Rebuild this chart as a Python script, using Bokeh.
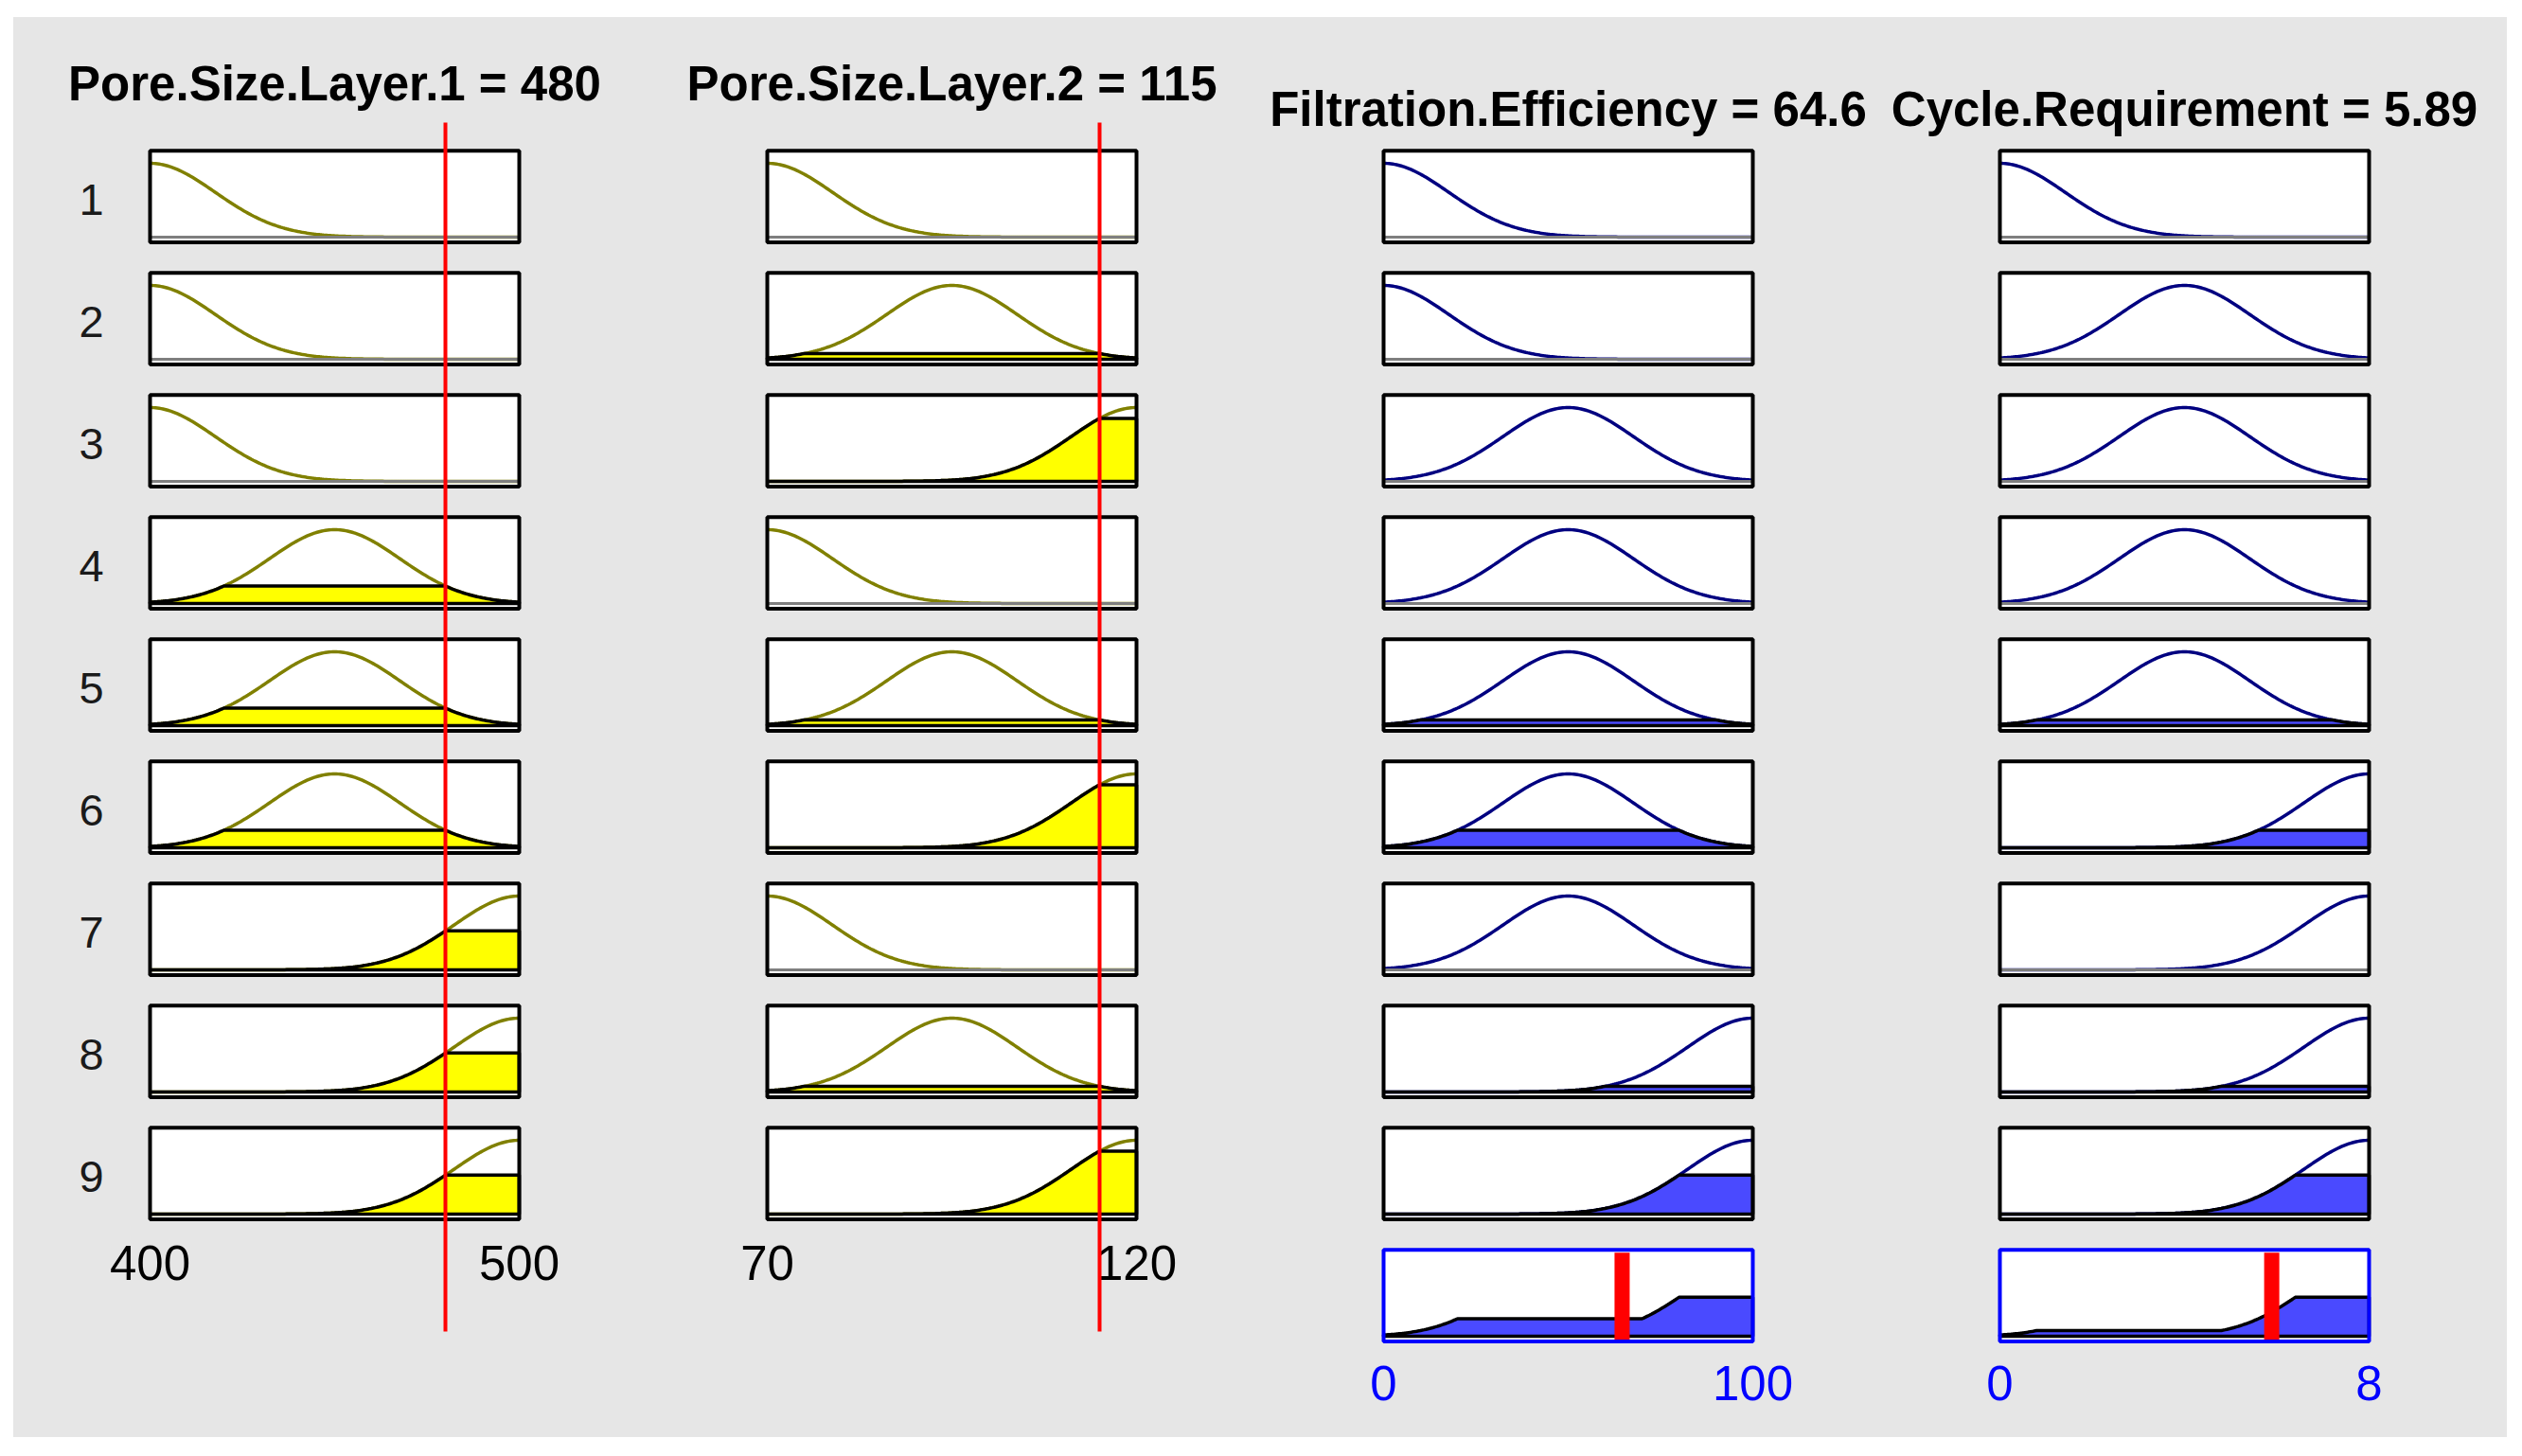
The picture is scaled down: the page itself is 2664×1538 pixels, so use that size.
import numpy as np
from bokeh.plotting import figure
from bokeh.layouts import row, column
from bokeh.models import Range1d, Spacer
from bokeh.embed import file_html
from bokeh.resources import INLINE
from bokeh.core.properties import value

# ---------------- data (read from the rule viewer) ----------------
input_names = ["Pore.Size.Layer.1", "Pore.Size.Layer.2"]
input_ranges = [(400, 500), (70, 120)]
input_values = [480, 115]
input_value_labels = ["480", "115"]

output_names = ["Filtration.Efficiency", "Cycle.Requirement"]
output_ranges = [(0, 100), (0, 8)]
output_values = [64.6, 5.89]
output_value_labels = ["64.6", "5.89"]

# gaussian membership functions: centres and spread per variable
in1_centers = [400, 450, 500]
in1_sigma = 17.69
in2_centers = [70, 95, 120]
in2_sigma = 8.845
out1_centers = [0, 50, 100]
out1_sigma = 17.69
out2_centers = [0, 4, 8]
out2_sigma = 1.415

# rule base (membership function index used by each rule)
rule_labels = ["1", "2", "3", "4", "5", "6", "7", "8", "9"]
rule_in1 = [1, 1, 1, 2, 2, 2, 3, 3, 3]
rule_in2 = [1, 2, 3, 1, 2, 3, 1, 2, 3]
rule_out1 = [1, 1, 2, 2, 2, 2, 2, 3, 3]
rule_out2 = [1, 2, 2, 2, 2, 3, 3, 3, 3]

in1_tick_values = [400, 500]
in1_tick_labels = ["400", "500"]
in2_tick_values = [70, 120]
in2_tick_labels = ["70", "120"]
out1_tick_values = [0, 100]
out1_tick_labels = ["0", "100"]
out2_tick_values = [0, 8]
out2_tick_labels = ["0", "8"]

# ---------------- styles / layout ----------------
GRAY_BG = "#e6e6e6"
IN_LINE = "#808000"
OUT_LINE = "#000080"
IN_FILL = "#ffff00"
OUT_FILL = "#4a4aff"
RED = "#ff0000"
BLUE = "#0000ff"
FONT = value("Liberation Sans")

PX = 78.0          # pixels per membership unit
BASE0 = 250.0      # page y of the zero line of rule row 1
PITCH = 129.0      # row pitch in pixels
GRAY_TOP = 18.0
GRAY_BOTTOM = 1518.0
GRAY_LEFT = 14.0
BOX_W = 390.0
NSAMP = 201
TEXT_DY = 17.0     # baseline correction for text glyphs


def py(page_y):
    return (BASE0 - page_y) / PX


def ty(page_y):
    return py(page_y - TEXT_DY)


def gauss(x, c, s):
    return np.exp(-((np.asarray(x, dtype=float) - c) ** 2) / (2.0 * s * s))


row_bases = [py(BASE0 + PITCH * i) for i in range(10)]
Y_RANGE = (py(GRAY_BOTTOM), py(GRAY_TOP))

# firing strengths (AND = min)
mu1 = [float(gauss(input_values[0], in1_centers[k - 1], in1_sigma)) for k in rule_in1]
mu2 = [float(gauss(input_values[1], in2_centers[k - 1], in2_sigma)) for k in rule_in2]
firing = [min(a, b) for a, b in zip(mu1, mu2)]

# column geometry: page x of canvas left, canvas width, page x of box left
col_geom = [
    dict(left=14, w=665, box=158),
    dict(left=679, w=651, box=810),
    dict(left=1330, w=652, box=1461),
    dict(left=1982, w=666, box=2112),
]


def make_column(ci, lo, hi, centers, sigma, rule_mf, levels, is_output, title):
    g = col_geom[ci]
    pxd = BOX_W / (hi - lo)

    def px2x(page_x):
        return lo + (page_x - g["box"]) / pxd

    x0 = px2x(g["left"])
    x1 = px2x(g["left"] + g["w"])
    p = figure(width=g["w"], height=int(GRAY_BOTTOM - GRAY_TOP),
               x_range=Range1d(x0, x1), y_range=Range1d(*Y_RANGE),
               output_backend="svg", toolbar_location=None,
               x_axis_location=None, y_axis_location=None, min_border=0)
    p.background_fill_color = GRAY_BG
    p.border_fill_color = GRAY_BG
    p.outline_line_color = None
    p.xgrid.visible = False
    p.ygrid.visible = False

    line_col = OUT_LINE if is_output else IN_LINE
    fill_col = OUT_FILL if is_output else IN_FILL
    xs = np.linspace(lo, hi, NSAMP)

    for r in range(9):
        b = row_bases[r]
        p.quad(left=[lo], right=[hi], bottom=[b - 0.07], top=[b + 1.17],
               fill_color="white", line_color=None)
        mf = gauss(xs, centers[rule_mf[r] - 1], sigma)
        p.line(x=xs, y=b + mf, line_color=line_col, line_width=3.5)
        lev = levels[r]
        if lev > 0.01:
            yy = np.minimum(mf, lev)
            px_ = np.concatenate([[lo], xs, [hi]])
            py_ = np.concatenate([[b], b + yy, [b]])
            p.patch(x=px_, y=py_, fill_color=fill_col, line_color="black", line_width=3.5)
        else:
            p.line(x=[lo, hi], y=[b, b], line_color="#7f7f7f", line_width=3)
        p.quad(left=[lo], right=[hi], bottom=[b - 0.07], top=[b + 1.17],
               fill_color=None, line_color="black", line_width=4)

    title_y = ty(105) if not is_output else ty(132)
    p.text(x=[(lo + hi) / 2.0], y=[title_y], text=[title], text_font=FONT,
           text_font_size="51px", text_font_style="bold", text_align="center",
           text_baseline="alphabetic", text_color="black")
    return p, px2x


# ---------------- input columns ----------------
p1, px2x1 = make_column(0, *input_ranges[0], in1_centers, in1_sigma, rule_in1, mu1, False,
                        f"{input_names[0]} = {input_value_labels[0]}")
p2, px2x2 = make_column(1, *input_ranges[1], in2_centers, in2_sigma, rule_in2, mu2, False,
                        f"{input_names[1]} = {input_value_labels[1]}")

for p, tv, tl, v in [(p1, in1_tick_values, in1_tick_labels, input_values[0]),
                     (p2, in2_tick_values, in2_tick_labels, input_values[1])]:
    p.text(x=tv, y=[ty(1350)] * len(tv), text=tl, text_font=FONT, text_font_size="51px",
           text_align="center", text_baseline="alphabetic", text_color="black")
    p.segment(x0=[v], y0=[py(129)], x1=[v], y1=[py(1406)], line_color=RED, line_width=4)

# rule numbers on the left of the first column
p1.text(x=[px2x1(96)] * 9, y=[ty(BASE0 + PITCH * i - 23) for i in range(9)],
        text=rule_labels, text_font=FONT, text_font_size="47px", text_align="center",
        text_baseline="alphabetic", text_color="#1a1a1a")

# ---------------- output columns ----------------
p3, _ = make_column(2, *output_ranges[0], out1_centers, out1_sigma, rule_out1, firing, True,
                    f"{output_names[0]} = {output_value_labels[0]}")
p4, _ = make_column(3, *output_ranges[1], out2_centers, out2_sigma, rule_out2, firing, True,
                    f"{output_names[1]} = {output_value_labels[1]}")

for p, (lo, hi), centers, sigma, rmf, tv, tl, v in [
        (p3, output_ranges[0], out1_centers, out1_sigma, rule_out1, out1_tick_values, out1_tick_labels, output_values[0]),
        (p4, output_ranges[1], out2_centers, out2_sigma, rule_out2, out2_tick_values, out2_tick_labels, output_values[1])]:
    b = row_bases[9]
    xs = np.linspace(lo, hi, NSAMP)
    agg = np.zeros_like(xs)
    for r in range(9):
        agg = np.maximum(agg, np.minimum(gauss(xs, centers[rmf[r] - 1], sigma), firing[r]))
    p.quad(left=[lo], right=[hi], bottom=[b - 0.07], top=[b + 1.17],
           fill_color="white", line_color=None)
    p.patch(x=np.concatenate([[lo], xs, [hi]]), y=np.concatenate([[b], b + agg, [b]]),
            fill_color=OUT_FILL, line_color="black", line_width=3.5)
    p.segment(x0=[v], y0=[b - 0.05], x1=[v], y1=[b + 1.13], line_color=RED, line_width=16)
    p.quad(left=[lo], right=[hi], bottom=[b - 0.07], top=[b + 1.17],
           fill_color=None, line_color=BLUE, line_width=4)
    p.text(x=tv, y=[ty(1477)] * len(tv), text=tl, text_font=FONT, text_font_size="51px",
           text_align="center", text_baseline="alphabetic", text_color=BLUE)

panel = row(p1, p2, p3, p4, styles={"background-color": GRAY_BG})
layout = column(Spacer(width=10, height=int(GRAY_TOP)),
                row(Spacer(width=int(GRAY_LEFT), height=10), panel))
open("out.html", "w").write(file_html(layout, INLINE))
